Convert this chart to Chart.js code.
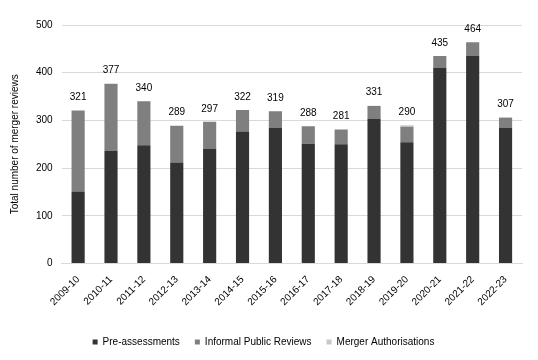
<!DOCTYPE html>
<html>
<head>
<meta charset="utf-8">
<script src="https://cdn.jsdelivr.net/npm/chart.js@4"></script>
<style>
  html, body { margin:0; padding:0; background:#fff; }
  #wrap { width:538px; height:360px; }
</style>
</head>
<body>
<div id="wrap"><canvas id="myChart" width="538" height="360"></canvas></div>
<script>
// data
const years = ['2009-10','2010-11','2011-12','2012-13','2013-14','2014-15','2015-16','2016-17','2017-18','2018-19','2019-20','2020-21','2021-22','2022-23'];
const preAssessments = [151,236,248,212,240,277,284,251,250,303,254,410,435,284];
const informalReviews = [170,141,92,77,57,45,35,37,31,27,33,25,29,21];
const mergerAuths = [0,0,0,0,0,0,0,0,0,1,3,0,0,2];
const yTicks = [0,100,200,300,400,500];

let totals = years.map((y,i) => preAssessments[i] + informalReviews[i] + mergerAuths[i]);

// totals over each bar
const totalLabels = {
    id: 'totalLabels',
    afterDatasetsDraw(chart){
        const ctx = chart.ctx;
        const meta = chart.getDatasetMeta(0);
        const ys = chart.scales.y;
        ctx.save();
        ctx.font = '10px "Liberation Sans", Arial, sans-serif';
        ctx.fillStyle = '#000';
        ctx.textAlign = 'center';
        ctx.textBaseline = 'bottom';
        meta.data.forEach((bar,i) => {
            ctx.fillText(totals[i], bar.x, ys.getPixelForValue(totals[i]) - 8);
        });
        ctx.restore();
    }
};

Chart.defaults.font.family = '"Liberation Sans", Arial, sans-serif';
Chart.defaults.font.size = 10;
Chart.defaults.color = '#000';

var ctx = document.getElementById('myChart').getContext('2d');
var myChart = new Chart(ctx, {
    type: 'bar',
    data: {
        labels: years,
        datasets: [
            { label: 'Pre-assessments', data: preAssessments, backgroundColor: '#333333' },
            { label: 'Informal Public Reviews', data: informalReviews, backgroundColor: '#7f7f7f' },
            { label: 'Merger Authorisations', data: mergerAuths, backgroundColor: '#c8c8c8' }
        ]
    },
    options: {
        responsive: false,
        animation: false,
        layout: { padding: { top: 25, right: 16, left: 5, bottom: 3 } },
        datasets: { bar: { barPercentage: 0.4, categoryPercentage: 1 } },
        scales: {
            x: {
                stacked: true,
                grid: { display: false },
                border: { color: '#d9d9d9' },
                ticks: { maxRotation: 45, minRotation: 45, padding: 2 }
            },
            y: {
                stacked: true,
                min: 0,
                max: 500,
                afterBuildTicks(axis){ axis.ticks = yTicks.map(v => ({ value: v })); },
                grid: { color: '#d9d9d9', drawTicks: false },
                border: { display: false },
                ticks: { padding: 9 },
                title: { display: true, text: 'Total number of merger reviews', padding: { bottom: 6 } }
            }
        },
        plugins: {
            legend: {
                position: 'bottom',
                title: { display: true, text: '', padding: 0 },
                labels: { boxWidth: 5, boxHeight: 5, padding: 15 }
            },
            tooltip: { enabled: false }
        }
    },
    plugins: [totalLabels]
});
</script>
</body>
</html>
